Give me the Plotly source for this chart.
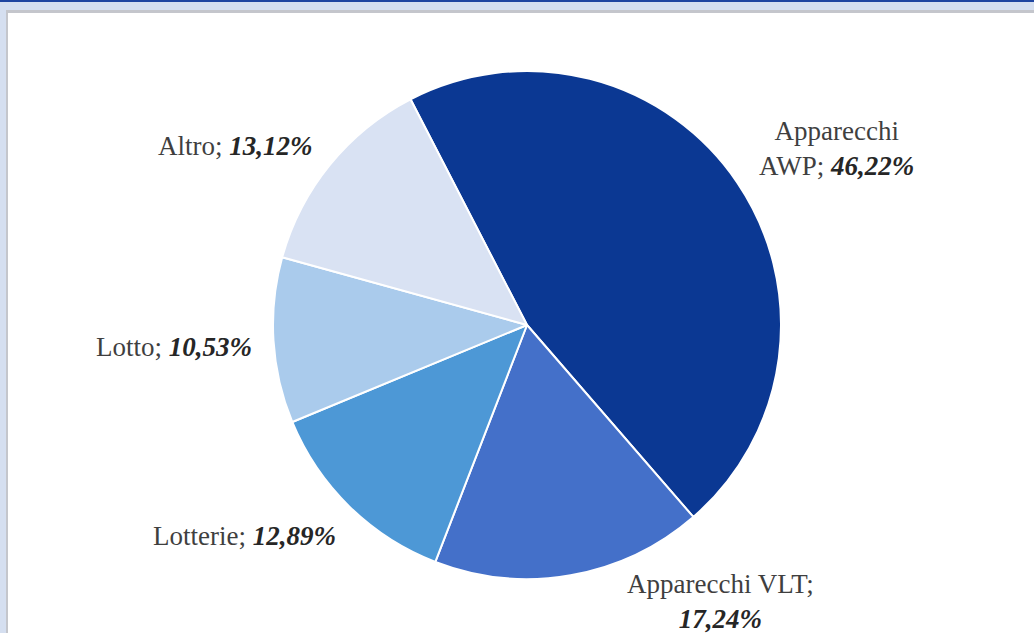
import plotly.graph_objects as go

# ---- data ----
categories = ["Apparecchi AWP", "Apparecchi VLT", "Lotterie", "Lotto", "Altro"]
values = [46.22, 17.24, 12.89, 10.53, 13.12]
value_labels = ["46,22%", "17,24%", "12,89%", "10,53%", "13,12%"]
colors = ["#0b3893", "#4470c9", "#4d98d6", "#aacbec", "#d9e2f3"]

W, H = 1034, 633
cx, cy, r = 527, 325, 254


def px(x):
    return x / W


def py(y):
    return 1 - y / H


fig = go.Figure()
fig.add_trace(go.Pie(
    labels=categories,
    values=values,
    sort=False,
    direction="clockwise",
    rotation=-27.3,
    marker=dict(colors=colors, line=dict(color="white", width=2)),
    textinfo="none",
    hoverinfo="label+percent",
    showlegend=False,
    domain=dict(x=[px(cx - r), px(cx + r)], y=[py(cy + r), py(cy - r)]),
))

# label placement (pixel positions of label centres)
label_pos = [(836, 149), (720, 601), (244, 536), (174, 347), (235, 146)]
font = dict(family="Liberation Serif, Times New Roman, serif", size=27, color="#3f3f3f")


def pct(v):
    return "<b><i><span style='color:#262626'>%s</span></i></b>" % v


texts = [
    "Apparecchi<br>AWP; " + pct(value_labels[0]),
    "Apparecchi VLT;<br>" + pct(value_labels[1]),
    "Lotterie; " + pct(value_labels[2]),
    "Lotto; " + pct(value_labels[3]),
    "Altro; " + pct(value_labels[4]),
]
for t, (x, y) in zip(texts, label_pos):
    fig.add_annotation(x=px(x), y=py(y), xref="paper", yref="paper", text=t,
                       showarrow=False, font=font, align="center",
                       xanchor="center", yanchor="middle")

shapes = [
    # white chart area
    dict(type="rect", xref="paper", yref="paper", x0=px(7), x1=1.02, y0=-0.02, y1=py(11),
         fillcolor="white", line=dict(width=0), layer="below"),
    # gray top edge of chart area
    dict(type="rect", xref="paper", yref="paper", x0=px(7), x1=1.02, y0=py(13), y1=py(10),
         fillcolor="#c4c6cc", line=dict(width=0), layer="below"),
    # gray left edge of chart area
    dict(type="rect", xref="paper", yref="paper", x0=px(6), x1=px(8), y0=-0.02, y1=py(10),
         fillcolor="#c4c6cc", line=dict(width=0), layer="below"),
    # dark blue top line
    dict(type="rect", xref="paper", yref="paper", x0=-0.02, x1=1.02, y0=py(2), y1=1.02,
         fillcolor="#1f45a0", line=dict(width=0), layer="below"),
]

fig.update_layout(
    width=W, height=H,
    margin=dict(l=0, r=0, t=0, b=0),
    paper_bgcolor="#d5dff0",
    plot_bgcolor="white",
    shapes=shapes,
)

fig.write_html("out.html",
               config={"displayModeBar": False},
               post_script="document.body.style.margin='0';document.body.style.overflow='hidden';")
